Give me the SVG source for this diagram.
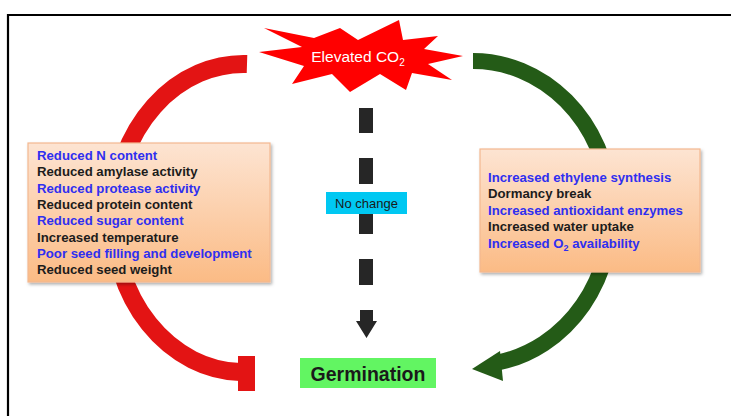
<svg xmlns="http://www.w3.org/2000/svg" width="731" height="416" viewBox="0 0 731 416">
<defs>
<linearGradient id="peach" x1="0" y1="0" x2="0" y2="1">
<stop offset="0" stop-color="#fde4d2"/>
<stop offset="1" stop-color="#fbbb85"/>
</linearGradient>
<filter id="sh" x="-5%" y="-5%" width="112%" height="115%">
<feDropShadow dx="1.5" dy="2" stdDeviation="1.5" flood-color="#000" flood-opacity="0.3"/>
</filter>
</defs>
<style>
.t{font-family:"Liberation Sans",Arial,sans-serif;font-weight:bold;font-size:13.2px}
.b{fill:#2f2ff0}
.k{fill:#1c1c1c}
.box{fill:url(#peach);stroke:#f4b890;stroke-width:1.2}
</style>
<rect width="731" height="416" fill="#fff"/>
<path d="M8,416 V15 H731" fill="none" stroke="#000" stroke-width="2.2"/>

<g id="connectors">
<path d="M247,64 A130 154 0 0 0 240,372" fill="none" stroke="#e31414" stroke-width="18"/>
<rect x="238" y="356" width="17" height="35" fill="#e31414"/>
<path d="M473,61 A138 152 0 0 1 498,362.5" fill="none" stroke="#245b17" stroke-width="16"/>
<polygon points="472,369 500,351 503,381" fill="#245b17"/>
<g fill="#262626">
<rect x="359" y="108" width="14" height="25"/>
<rect x="359" y="158" width="14" height="26"/>
<rect x="359" y="208" width="14" height="26"/>
<rect x="359" y="259" width="14" height="26"/>
<polygon points="360,310 373,310 373,321 377,321 366.5,338 356,321 360,321"/>
</g>
</g>

<g id="elevated-co2">
<polygon points="259,52 302,47 264,28 314,38 340,28 358,40 399,20 403,40 438,36 424,49 463,56 428,64 452,80 412,73 406,90 380,74 350,92 332,74 292,84 304,66" fill="#ff0000"/>
<text x="358" y="62" text-anchor="middle" font-family="Liberation Sans,Arial,sans-serif" font-size="15.5" fill="#fff">Elevated CO<tspan font-size="10" dy="4">2</tspan></text>
</g>

<g id="negative-effects">
<rect class="box" x="28" y="143" width="242" height="139" filter="url(#sh)"/>
<text class="t b" x="37" y="160">Reduced N content</text>
<text class="t k" x="37" y="176.3">Reduced amylase activity</text>
<text class="t b" x="37" y="192.6">Reduced protease activity</text>
<text class="t k" x="37" y="208.9">Reduced protein content</text>
<text class="t b" x="37" y="225.2">Reduced sugar content</text>
<text class="t k" x="37" y="241.5">Increased temperature</text>
<text class="t b" x="37" y="257.8">Poor seed filling and development</text>
<text class="t k" x="37" y="274.1">Reduced seed weight</text>
</g>

<g id="positive-effects">
<rect class="box" x="480" y="149" width="220" height="123" filter="url(#sh)"/>
<text class="t b" x="488" y="181.5">Increased ethylene synthesis</text>
<text class="t k" x="488" y="198">Dormancy break</text>
<text class="t b" x="488" y="214.5">Increased antioxidant enzymes</text>
<text class="t k" x="488" y="231">Increased water uptake</text>
<text class="t b" x="488" y="247.5">Increased O<tspan font-size="9" dy="3">2</tspan><tspan dy="-3"> availability</tspan></text>
</g>

<g id="no-change">
<rect x="326" y="192" width="81" height="22" fill="#00c8f2"/>
<text x="366.5" y="207.5" text-anchor="middle" font-family="Liberation Sans,Arial,sans-serif" font-size="13" fill="#1a1a1a">No change</text>
</g>

<g id="germination">
<rect x="300" y="358" width="136" height="30" fill="#62f562"/>
<text x="368" y="380.5" text-anchor="middle" font-family="Liberation Sans,Arial,sans-serif" font-weight="bold" font-size="19.5" fill="#1a1a1a">Germination</text>
</g>
</svg>
